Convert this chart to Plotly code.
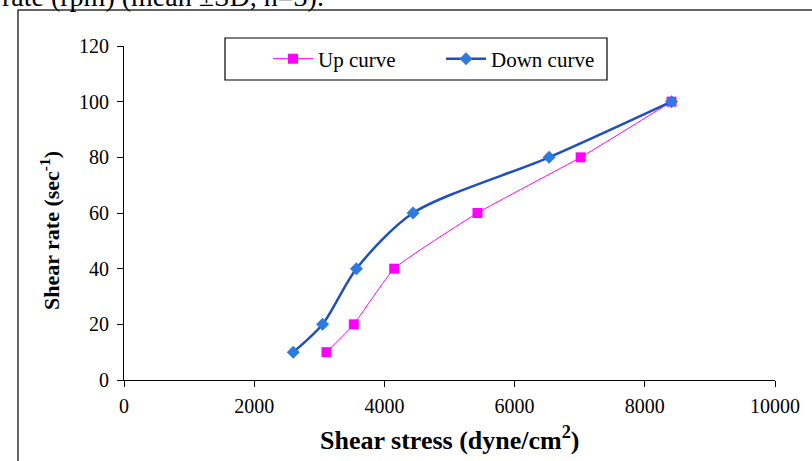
import plotly.graph_objects as go

# Data
rate = [10, 20, 40, 60, 80, 100]
up_stress = [3110, 3530, 4150, 5430, 7015, 8410]
down_stress = [2600, 3050, 3570, 4440, 6530, 8410]

x_ticks = [0, 2000, 4000, 6000, 8000, 10000]
y_ticks = [0, 20, 40, 60, 80, 100, 120]

FONT = "Liberation Serif, Times New Roman, serif"

L, R, T, B = 124, 37, 46, 81
PW = 812 - L - R
PH = 461 - T - B

def px(x):
    return (x - L) / PW

def py(y):
    return (461 - B - y) / PH

fig = go.Figure()
fig.add_trace(go.Scatter(
    x=up_stress, y=rate, name="Up curve", mode="lines+markers",
    line=dict(color="#FF00FF", width=1, shape="spline", smoothing=0.4),
    marker=dict(symbol="square", size=10, color="#FF00FF"),
))
fig.add_trace(go.Scatter(
    x=down_stress, y=rate, name="Down curve", mode="lines+markers",
    line=dict(color="#1F4FBF", width=2.5, shape="spline", smoothing=0.8),
    marker=dict(symbol="diamond", size=10, color="#2E7BE0"),
))

fig.update_layout(
    width=812, height=461,
    margin=dict(l=L, r=R, t=T, b=B),
    paper_bgcolor="white", plot_bgcolor="white",
    font=dict(family=FONT, size=20, color="black"),
    showlegend=True,
    legend=dict(
        orientation="h", x=px(268), y=py(59), xanchor="left", yanchor="middle",
        borderwidth=0, bgcolor="rgba(0,0,0,0)",
        font=dict(family=FONT, size=21, color="black"),
        entrywidth=118, itemwidth=40,
    ),
    xaxis=dict(
        range=[0, 10000], tickvals=x_ticks, ticktext=[str(v) for v in x_ticks],
        showline=True, linecolor="black", linewidth=1, ticks="outside",
        ticklen=6, tickcolor="black", showgrid=False, zeroline=False,
        ticklabelstandoff=2,
        tickfont=dict(family=FONT, size=20),
    ),
    yaxis=dict(
        range=[0, 120], tickvals=y_ticks, ticktext=[str(v) for v in y_ticks],
        showline=True, linecolor="black", linewidth=1, ticks="outside",
        ticklen=6, tickcolor="black", showgrid=False, zeroline=False,
        ticklabelstandoff=4,
        tickfont=dict(family=FONT, size=20),
    ),
    shapes=[
        dict(type="rect", xref="paper", yref="paper",
             x0=px(18), x1=1.3, y0=-0.5, y1=py(10),
             line=dict(color="#333333", width=1.5), layer="below"),
        dict(type="rect", xref="paper", yref="paper",
             x0=px(225), x1=px(607), y0=py(80), y1=py(38),
             line=dict(color="black", width=1.2), fillcolor="white", layer="below"),
    ],
    annotations=[
        dict(text="rate (rpm) (mean ±SD, n=3).", xref="paper", yref="paper",
             x=px(0), y=py(14), xanchor="left", yanchor="bottom",
             showarrow=False, font=dict(family=FONT, size=28, color="black")),
        dict(text="<b>Shear stress (dyne/cm<sup>2</sup>)</b>", xref="paper", yref="paper",
             x=px(449), y=py(438), xanchor="center", yanchor="middle",
             showarrow=False, font=dict(family=FONT, size=26, color="black")),
        dict(text="<b>Shear rate (sec<sup>-1</sup>)</b>", xref="paper", yref="paper",
             x=px(50), y=py(231), xanchor="center", yanchor="middle", textangle=-90,
             showarrow=False, font=dict(family=FONT, size=22, color="black")),
    ],
)

fig.write_html("out.html")
